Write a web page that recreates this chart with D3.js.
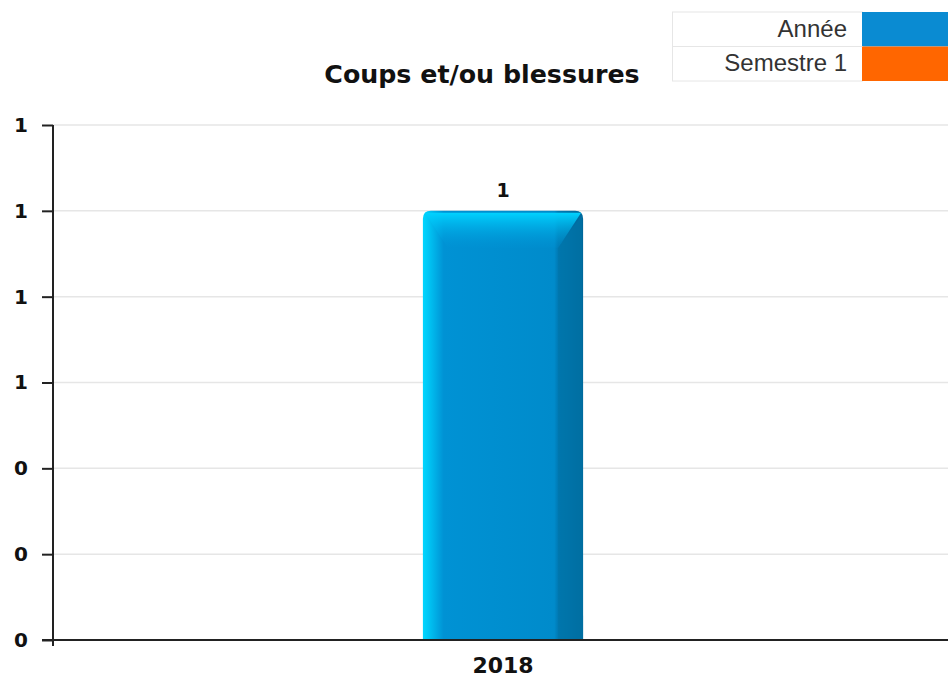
<!DOCTYPE html>
<html><head><meta charset="utf-8">
<script src="https://cdn.jsdelivr.net/npm/d3@7/dist/d3.min.js"></script>
<style>body{margin:0;background:#fff;}svg{display:block;}</style>
</head><body>
<svg id="c" width="948" height="677"></svg>
<script>
const categories = ["2018"];
const anneeValues = [1];
const yTicks = [0, 0.2, 0.4, 0.6, 0.8, 1.0, 1.2];
const legendLabels = ["Année", "Semestre 1"];
const legendColors = ["#0a8bd2", "#ff6600"];
const title = "Coups et/ou blessures";

const svg = d3.select("#c");
const W = 948, H = 677;
const m = {l: 53, r: -5, t: 125, b: 37};
const x = d3.scaleBand().domain(categories).range([m.l, W - m.r]).paddingInner(0).paddingOuter(0);
const y = d3.scaleLinear().domain([0, 1.2]).range([H - m.b, m.t]);
const fmt = v => d3.format(".0f")(v);

const defs = svg.append("defs");
const gh = defs.append("linearGradient").attr("id","gh").attr("x1","0").attr("x2","1").attr("y1","0").attr("y2","0");
[[0,"#00d6ff"],[0.03,"#00c8f6"],[0.13,"#0092d4"],[0.82,"#008bcb"],[0.845,"#0079b3"],[1,"#00679a"]].forEach(s=>gh.append("stop").attr("offset",s[0]).attr("stop-color",s[1]));
const gv = defs.append("linearGradient").attr("id","gv").attr("x1","0").attr("x2","0").attr("y1","0").attr("y2","1");
[[0,"#00d2ff",1],[1,"#0094d6",0.15]].forEach(s=>gv.append("stop").attr("offset",s[0]).attr("stop-color",s[1]).attr("stop-opacity",s[2]));

// grid
svg.append("g").selectAll("line").data(yTicks.filter(d=>d>0)).join("line")
  .attr("x1", m.l).attr("x2", W).attr("y1", d=>y(d)).attr("y2", d=>y(d))
  .attr("stroke", "#e6e6e6").attr("stroke-width", 1.5);

// bars
const bw = x.bandwidth() * 0.178;
const bars = svg.append("g");
categories.forEach((c, i) => {
  const cx = x(c) + x.bandwidth()/2;
  const x0 = cx - bw/2, x1 = cx + bw/2, y0 = y(anneeValues[i]), yb = y(0);
  const r = 8;
  bars.append("path").attr("d",
    `M${x0},${yb} L${x0},${y0+r} Q${x0},${y0} ${x0+r},${y0} L${x1-r},${y0} Q${x1},${y0} ${x1},${y0+r} L${x1},${yb} Z`)
    .attr("fill","url(#gh)");
  const bev = bw * 0.155;
  bars.append("path").attr("d",
    `M${x0+2},${y0+2} L${x1-2},${y0+2} L${x1-bev},${y0+bev+12} L${x0+bev},${y0+bev+12} Z`)
    .attr("fill","url(#gv)");
  bars.append("path").attr("d",
    `M${x1-bev},${y0+bev+12} L${x1-1},${y0+4} L${x1},${yb} L${x1-bev},${yb} Z`)
    .attr("fill","#0074a8").attr("opacity",0.55);
  bars.append("text").attr("x", cx).attr("y", y0 - 14).attr("text-anchor","middle")
    .attr("font-family","DejaVu Sans").attr("font-weight","bold").attr("font-size",19).attr("fill","#111")
    .text(fmt(anneeValues[i]));
});

// axes
const yAxis = d3.axisLeft(y).tickValues(yTicks).tickFormat(fmt).tickSize(11).tickPadding(14);
const ga = svg.append("g").attr("transform",`translate(${m.l},0)`).call(yAxis);
ga.select(".domain").attr("d", `M0,${y(1.2)}V${y(0)+6}`).attr("stroke","#222").attr("stroke-width",2);
ga.selectAll(".tick line").attr("stroke","#222").attr("stroke-width",2);
ga.selectAll(".tick text").attr("font-family","DejaVu Sans").attr("font-weight","bold").attr("font-size",20).attr("fill","#111");

const xAxis = d3.axisBottom(x).tickSize(0).tickPadding(17);
const gx = svg.append("g").attr("transform",`translate(0,${y(0)})`).call(xAxis);
gx.select(".domain").attr("d", `M${m.l-11},0H${W}`).attr("stroke","#222").attr("stroke-width",2);
gx.selectAll(".tick text").attr("font-family","DejaVu Sans").attr("font-weight","bold").attr("font-size",22).attr("fill","#111");

// title
svg.append("text").attr("x", 482).attr("y", 83).attr("text-anchor","middle")
  .attr("font-family","DejaVu Sans").attr("font-weight","bold").attr("font-size",25.3).attr("fill","#111").text(title);

// legend
const lg = svg.append("g");
legendLabels.forEach((l, i) => {
  const ry = 12 + i*34.5;
  lg.append("rect").attr("x",672.5).attr("y",ry).attr("width",190).attr("height",34.5).attr("fill","#fff").attr("stroke","#e6e6e6");
  lg.append("rect").attr("x",862).attr("y",ry).attr("width",86).attr("height",34.5).attr("fill",legendColors[i]);
  lg.append("text").attr("x",847).attr("y",ry+24.5).attr("text-anchor","end")
    .attr("font-family","Liberation Sans, Arial").attr("font-size",24).attr("fill","#333").text(l);
});
</script>
</body></html>
